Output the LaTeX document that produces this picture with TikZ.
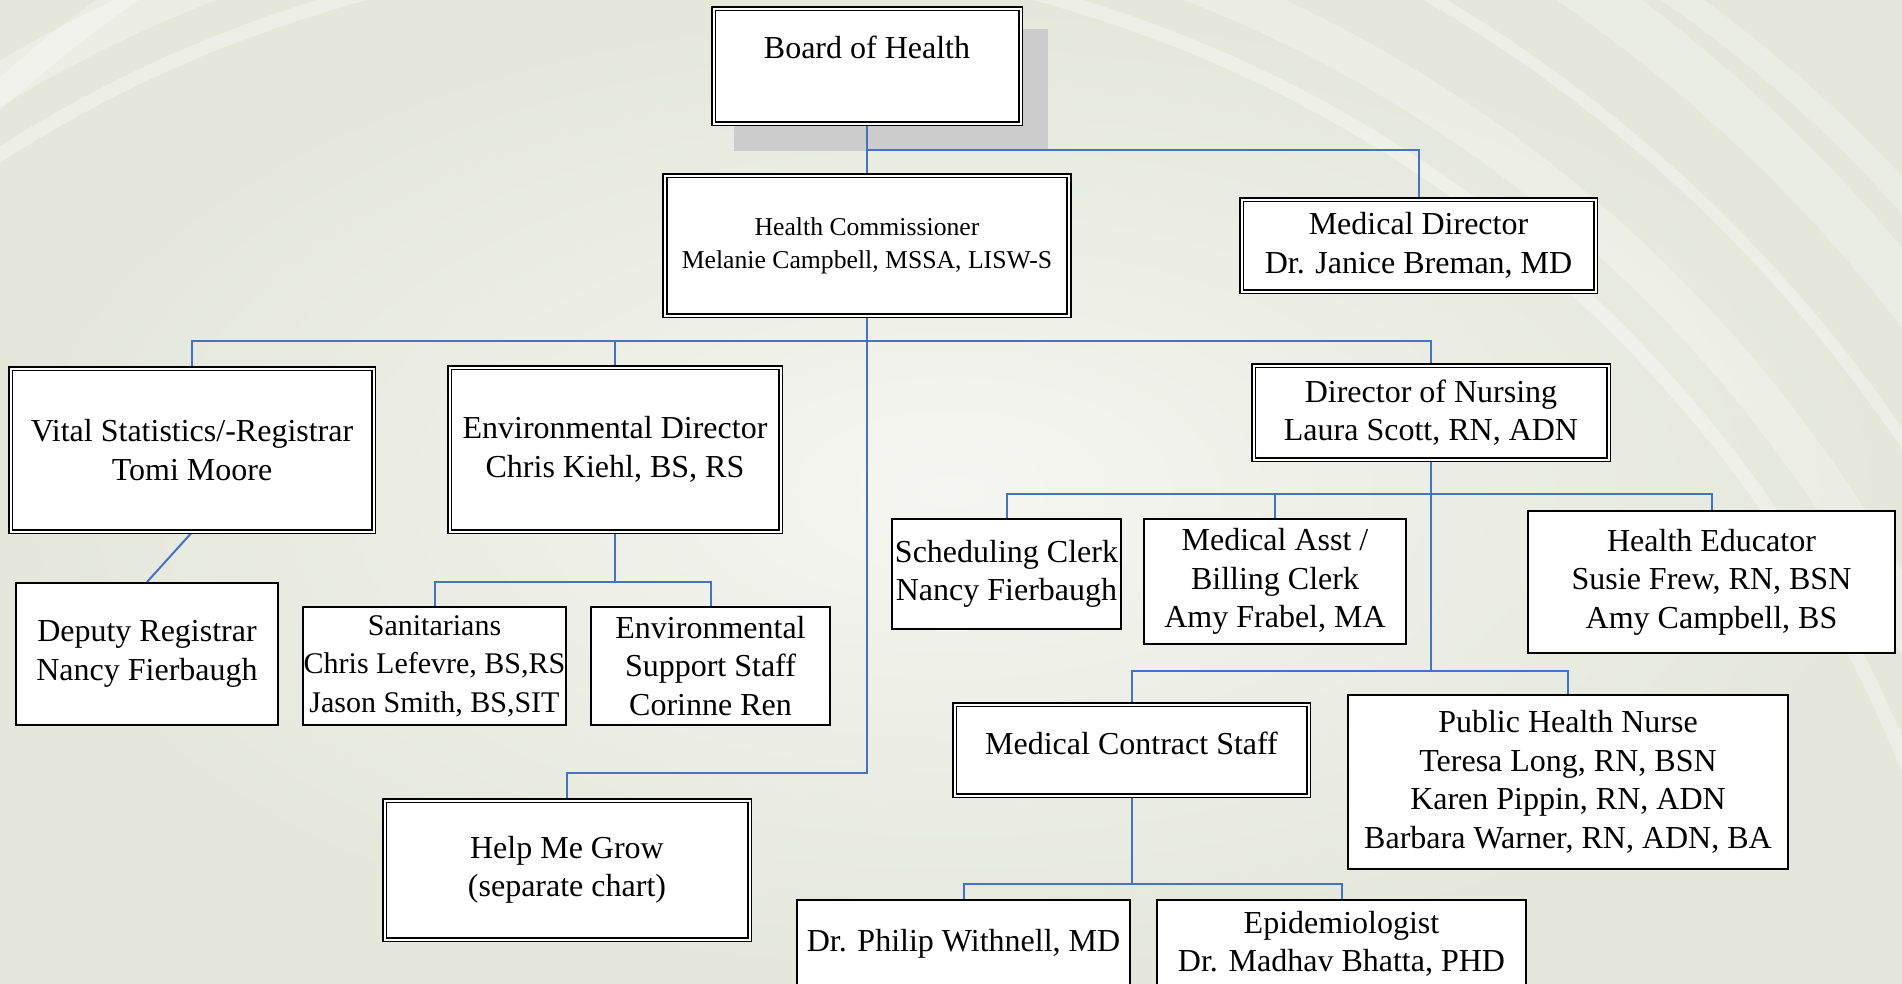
\documentclass[tikz,border=0pt]{standalone}
\usepackage{fontspec}
\setmainfont{Liberation Serif}
\definecolor{linkblue}{RGB}{68,114,196}
\definecolor{shadowgray}{RGB}{204,204,204}
\definecolor{bglight}{RGB}{245,246,241}
\definecolor{bgdark}{RGB}{228,231,218}
\pgfdeclarelayer{back}
\pgfdeclarelayer{links}
\pgfsetlayers{back,links,main}
\begin{document}
\begin{tikzpicture}[x=1pt,y=-1pt,
	box/.style={draw=black, line width=2pt, fill=white, align=center, inner sep=0pt, font=\fontsize{32}{38.5}\selectfont},
	dbox/.style={box, line width=1.6pt, double=white, double distance=2pt},
	link/.style={draw=linkblue, line width=2pt}]
			\useasboundingbox (0,0) rectangle (1902,983);
			\begin{pgfonlayer}{back}
				\shade[inner color=bglight, outer color=bgdark] (0,0) rectangle (1902,983);
				\foreach \r/\w/\o in {1300/14/.35, 1360/40/.3, 1450/12/.35, 1540/50/.25}
					\draw[white, opacity=\o, line width=\w pt] (700,1250) circle (\r);
				\draw[white, opacity=.25, line width=25pt] (900,1100) circle (1350);
				\fill[shadowgray] (734,29) rectangle (1048,151);
			\end{pgfonlayer}
			\node[dbox, minimum width=307pt, minimum height=115pt, text depth=38pt] (board) at (867,66) {Board of Health};
			\node[dbox, minimum width=404pt, minimum height=140pt, font=\fontsize{25.7}{33}\selectfont] (hc) at (867,245.5) {Health Commissioner\\Melanie Campbell, MSSA, LISW-S};
			\node[dbox, minimum width=354pt, minimum height=92pt] (md) at (1418.5,245.5) {Medical Director\\Dr. Janice Breman, MD};
			\node[dbox, minimum width=363pt, minimum height=163pt] (vs) at (192,450) {Vital Statistics/-Registrar\\Tomi Moore};
			\node[dbox, minimum width=331pt, minimum height=164pt] (ed) at (615,449.5) {Environmental Director\\Chris Kiehl, BS, RS};
			\node[dbox, minimum width=355pt, minimum height=94pt] (don) at (1431,412.5) {Director of Nursing\\Laura Scott, RN, ADN};
			\node[box, minimum width=262pt, minimum height=142pt] (dr) at (147,654) {Deputy Registrar\\Nancy Fierbaugh};
			\node[box, minimum width=263pt, minimum height=118pt, font=\fontsize{30}{38.5}\selectfont] (san) at (434.5,666) {Sanitarians\\Chris Lefevre, BS,RS\\Jason Smith, BS,SIT};
			\node[box, minimum width=239pt, minimum height=118pt] (esup) at (710.5,666) {Environmental\\Support Staff\\Corinne Ren};
			\node[box, minimum width=229pt, minimum height=110pt] (sc) at (1006.5,574) {Scheduling Clerk\\Nancy Fierbaugh};
			\node[box, minimum width=262pt, minimum height=125pt] (ma) at (1275,581.5) {Medical Asst /\\Billing Clerk\\Amy Frabel, MA};
			\node[box, minimum width=367pt, minimum height=142pt] (he) at (1711.5,582) {Health Educator\\Susie Frew, RN, BSN\\Amy Campbell, BS};
			\node[dbox, minimum width=354pt, minimum height=91pt, text depth=13pt] (mcs) at (1131.5,750) {Medical Contract Staff};
			\node[box, minimum width=440pt, minimum height=174pt] (phn) at (1568,782) {Public Health Nurse\\Teresa Long, RN, BSN\\Karen Pippin, RN, ADN\\Barbara Warner, RN, ADN, BA};
			\node[box, minimum width=333pt, minimum height=88pt] (phil) at (963.5,944) {Dr. Philip Withnell, MD};
			\node[box, minimum width=369pt, minimum height=88pt] (epi) at (1341.5,944) {Epidemiologist\\Dr. Madhav Bhatta, PHD};
			\node[dbox, minimum width=365pt, minimum height=139pt] (hmg) at (567,870) {Help Me Grow\\(separate chart)};
			\coordinate (j1) at (867,150);
			\coordinate (j2) at (867,341);
			\coordinate (j3) at (867,773);
			\coordinate (j4) at (615,582);
			\coordinate (j5) at (1431,494);
			\coordinate (j6) at (1431,671);
			\coordinate (j7) at (1131.5,884);
			\begin{pgfonlayer}{links}
				\draw[link] (board.south) -- (hc.north);
				\draw[link] (j1) -| (md.north);
				\draw[link] (hc.south) -- (j3) -| (hmg.north);
				\draw[link] (vs.north) |- (j2) -| (don.north);
				\draw[link] (ed.north) -- (ed.north |- j2);
				\draw[link] (vs.south) -- (dr.north);
				\draw[link] (ed.south) -- (j4);
				\draw[link] (san.north) |- (j4) -| (esup.north);
				\draw[link] (don.south) -- (j6);
				\draw[link] (sc.north) |- (j5) -| (he.north);
				\draw[link] (ma.north) -- (ma.north |- j5);
				\draw[link] (mcs.north) |- (j6) -| (phn.north);
				\draw[link] (mcs.south) -- (j7);
				\draw[link] (phil.north) |- (j7) -| (epi.north);
			\end{pgfonlayer}
		\end{tikzpicture}
\end{document}
